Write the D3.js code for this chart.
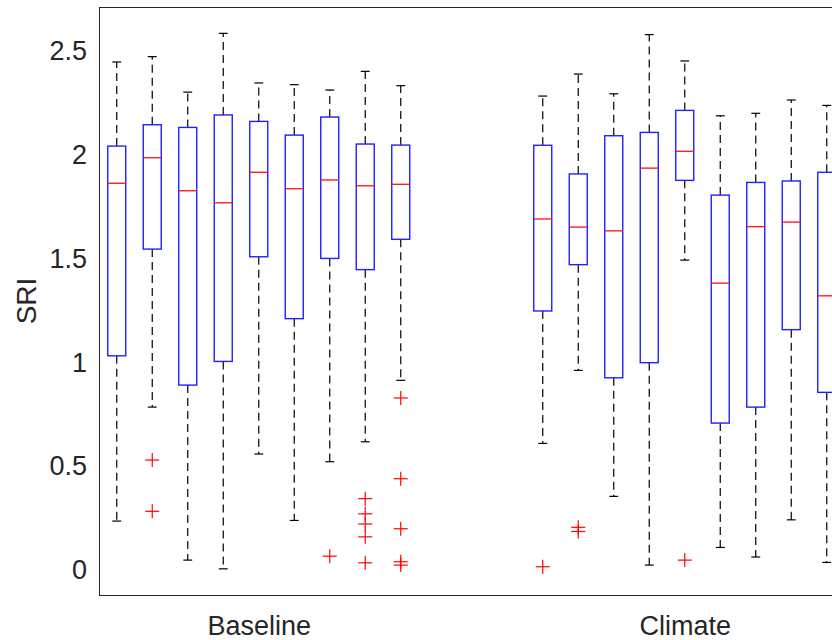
<!DOCTYPE html>
<html>
<head>
<meta charset="utf-8">
<script src="https://cdn.jsdelivr.net/npm/d3@7"></script>
<style>
  html, body { margin: 0; padding: 0; background: #fff; }
  svg { display: block; }
  text { font-family: "Liberation Sans", Arial, Helvetica, sans-serif; }
</style>
</head>
<body>
<svg id="chart" width="832" height="640"></svg>
<script>
// ---- data ----
const groups = ["Baseline", "Climate"];
const boxesPerGroup = 9;
const yTicks = [0, 0.5, 1, 1.5, 2, 2.5];
const yTickLabels = ["0", "0.5", "1", "1.5", "2", "2.5"];

// Baseline boxes 1..9 then Climate boxes 1..9
const whiskerLow  = [0.236, 0.785, 0.048, 0.006, 0.559, 0.239, 0.522, 0.618, 0.914,
                     0.610, 0.962, 0.355, 0.024, 1.493, 0.109, 0.063, 0.242, 0.037];
const q1          = [1.032, 1.546, 0.891, 1.005, 1.509, 1.211, 1.501, 1.447, 1.593,
                     1.248, 1.471, 0.926, 0.999, 1.877, 0.708, 0.785, 1.158, 0.856];
const medians     = [1.863, 1.986, 1.827, 1.769, 1.916, 1.837, 1.879, 1.851, 1.858,
                     1.691, 1.652, 1.634, 1.936, 2.017, 1.382, 1.654, 1.676, 1.321];
const q3          = [2.042, 2.145, 2.132, 2.192, 2.161, 2.095, 2.182, 2.052, 2.047,
                     2.046, 1.908, 2.092, 2.108, 2.214, 1.806, 1.867, 1.874, 1.916];
const whiskerHigh = [2.447, 2.473, 2.302, 2.585, 2.346, 2.338, 2.312, 2.402, 2.333,
                     2.283, 2.389, 2.294, 2.579, 2.452, 2.188, 2.200, 2.264, 2.238];
const outliers    = [[], [0.530, 0.283], [], [], [], [], [0.067], [0.344, 0.271, 0.222, 0.160, 0.035], [0.829, 0.440, 0.199, 0.040, 0.024],
                     [0.016], [0.206, 0.186], [], [], [0.048], [], [], [], []];

// ---- layout ----
const svg = d3.select("#chart");
const mLeft = 99, mTop = 7, mBottom = 595;
const unit = 35.5;
const x = d3.scaleLinear().domain([0.5, 33.5]).range([mLeft, mLeft + 33 * unit]);
const y = d3.scaleLinear().domain([-0.12, 2.712]).range([mBottom, mTop]);

const pos = i => Math.floor(i / boxesPerGroup) * (boxesPerGroup + 3) + (i % boxesPerGroup) + 1;
const boxW = 0.507, capW = 0.25;

const data = medians.map((m, i) => ({
  p: pos(i), lo: whiskerLow[i], q1: q1[i], med: m, q3: q3[i], hi: whiskerHigh[i], out: outliers[i]
}));

const plot = svg.append("g");

// whiskers (dashed)
plot.selectAll("line.wu").data(data).join("line").attr("class", "wu")
  .attr("x1", d => x(d.p)).attr("x2", d => x(d.p))
  .attr("y1", d => y(d.q3)).attr("y2", d => y(d.hi))
  .attr("stroke", "#000").attr("stroke-width", 1.2).attr("stroke-dasharray", "8,5");
plot.selectAll("line.wl").data(data).join("line").attr("class", "wl")
  .attr("x1", d => x(d.p)).attr("x2", d => x(d.p))
  .attr("y1", d => y(d.q1)).attr("y2", d => y(d.lo))
  .attr("stroke", "#000").attr("stroke-width", 1.2).attr("stroke-dasharray", "8,5");
// caps
["hi", "lo"].forEach(k => {
  plot.selectAll("line.cap" + k).data(data).join("line").attr("class", "cap" + k)
    .attr("x1", d => x(d.p - capW / 2)).attr("x2", d => x(d.p + capW / 2))
    .attr("y1", d => y(d[k])).attr("y2", d => y(d[k]))
    .attr("stroke", "#000").attr("stroke-width", 1.2);
});
// boxes
plot.selectAll("rect.box").data(data).join("rect").attr("class", "box")
  .attr("x", d => x(d.p - boxW / 2)).attr("width", x(boxW) - x(0))
  .attr("y", d => y(d.q3)).attr("height", d => y(d.q1) - y(d.q3))
  .attr("fill", "none").attr("stroke", "#2020ff").attr("stroke-width", 1.4);
// medians
plot.selectAll("line.med").data(data).join("line").attr("class", "med")
  .attr("x1", d => x(d.p - boxW / 2)).attr("x2", d => x(d.p + boxW / 2))
  .attr("y1", d => y(d.med)).attr("y2", d => y(d.med))
  .attr("stroke", "#ff2020").attr("stroke-width", 1.4);
// outliers
const outPts = data.flatMap(d => d.out.map(v => ({ p: d.p, v })));
const plus = plot.selectAll("g.out").data(outPts).join("g").attr("class", "out")
  .attr("transform", d => `translate(${x(d.p)},${y(d.v)})`);
plus.append("line").attr("x1", -7).attr("x2", 7).attr("y1", 0).attr("y2", 0)
  .attr("stroke", "#ff0000").attr("stroke-width", 1.2);
plus.append("line").attr("x1", 0).attr("x2", 0).attr("y1", -7).attr("y2", 7)
  .attr("stroke", "#ff0000").attr("stroke-width", 1.2);

// frame
svg.append("rect").attr("x", mLeft + 0.5).attr("y", mTop + 0.5)
  .attr("width", 2000).attr("height", mBottom - mTop)
  .attr("fill", "none").attr("stroke", "#262626").attr("stroke-width", 1);

// y axis labels
const yAxis = d3.axisLeft(y).tickValues(yTicks).tickFormat((d, i) => yTickLabels[i])
  .tickSize(0).tickPadding(12);
const ga = svg.append("g").attr("transform", `translate(${mLeft},0)`).call(yAxis);
ga.select(".domain").remove();
ga.selectAll("text").attr("font-size", 27).attr("fill", "#262626")
  .attr("font-family", "'Liberation Sans', Arial, sans-serif");

// x axis group labels
const xAxis = d3.axisBottom(x)
  .tickValues(groups.map((g, gi) => gi * (boxesPerGroup + 3) + (boxesPerGroup + 1) / 2))
  .tickFormat((d, i) => groups[i]).tickSize(0).tickPadding(21);
const gx = svg.append("g").attr("transform", `translate(0,${mBottom})`).call(xAxis);
gx.select(".domain").remove();
gx.selectAll("text").attr("font-size", 27).attr("fill", "#262626")
  .attr("font-family", "'Liberation Sans', Arial, sans-serif");

// y label
svg.append("text").attr("transform", `translate(36,${(mTop + mBottom) / 2}) rotate(-90)`)
  .attr("text-anchor", "middle").attr("font-size", 28).attr("fill", "#262626")
  .text("SRI");
</script>
</body>
</html>
